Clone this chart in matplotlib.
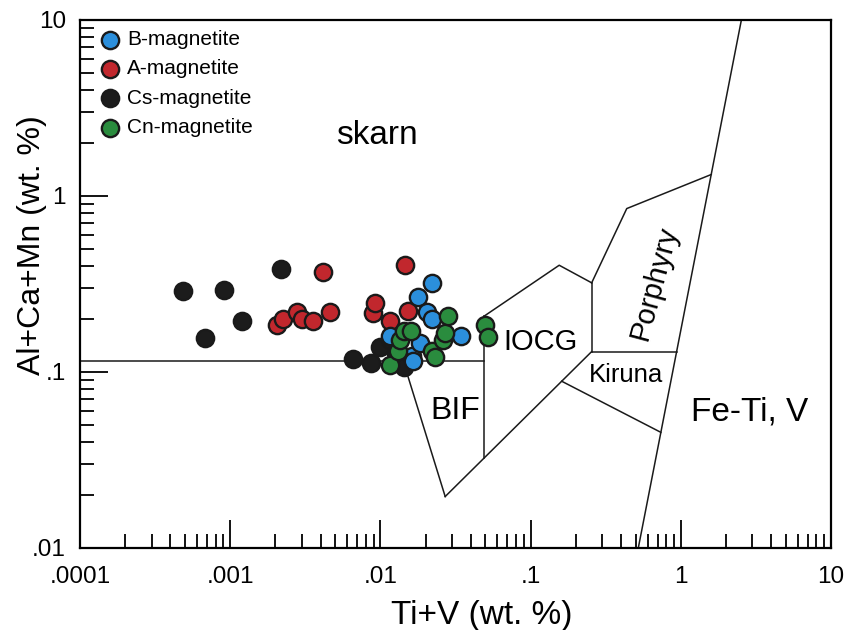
import matplotlib.pyplot as plt
from matplotlib.ticker import FixedLocator, FixedFormatter, LogLocator, NullFormatter

plt.rcParams['font.family'] = ['Liberation Sans', 'DejaVu Sans']

# Ti+V (x) and Al+Ca+Mn (y), wt. %
b_x = [0.0116, 0.0162, 0.0165, 0.0178, 0.0184, 0.0204, 0.0221, 0.0221, 0.0344]
b_y = [0.161, 0.124, 0.116, 0.265, 0.147, 0.218, 0.319, 0.201, 0.161]

a_x = [0.00205, 0.00225, 0.00278, 0.00301, 0.00356, 0.00415, 0.00462,
       0.00893, 0.00920, 0.0116, 0.0146, 0.0153]
a_y = [0.186, 0.201, 0.218, 0.201, 0.196, 0.368, 0.218,
       0.215, 0.245, 0.196, 0.403, 0.221]

cs_x = [0.000485, 0.000679, 0.000909, 0.00120, 0.00218, 0.00657, 0.00866,
        0.00994, 0.0116, 0.0127, 0.0144]
cs_y = [0.287, 0.155, 0.294, 0.196, 0.383, 0.119, 0.112,
        0.138, 0.151, 0.129, 0.107]

cn_x = [0.0116, 0.0131, 0.0135, 0.0144, 0.0160, 0.0221, 0.0231, 0.0261,
        0.0269, 0.0282, 0.0497, 0.0520]
cn_y = [0.109, 0.132, 0.151, 0.172, 0.172, 0.132, 0.121, 0.151,
        0.166, 0.207, 0.186, 0.159]

# field boundaries of the discrimination diagram
boundaries = [
    ([0.0001, 0.049], [0.115, 0.115]),
    ([0.0142, 0.027], [0.115, 0.0196]),
    ([0.027, 0.255], [0.0196, 0.1306]),
    ([0.049, 0.049], [0.0324, 0.2075]),
    ([0.049, 0.155, 0.255], [0.2075, 0.404, 0.321]),
    ([0.255, 0.255], [0.321, 0.1306]),
    ([0.255, 0.4365, 1.593], [0.321, 0.848, 1.324]),
    ([0.255, 0.938], [0.1306, 0.1306]),
    ([0.161, 0.736], [0.0886, 0.0454]),
    ([0.521, 2.53], [0.01, 10]),
]

x_ticks = [0.0001, 0.001, 0.01, 0.1, 1, 10]
x_ticklabels = ['.0001', '.001', '.01', '.1', '1', '10']
y_ticks = [0.01, 0.1, 1, 10]
y_ticklabels = ['.01', '.1', '1', '10']

fig = plt.figure(figsize=(8.48, 6.3), dpi=100)
ax = fig.add_axes([0.0943, 0.1302, 0.8857, 0.8381])
ax.set_xscale('log')
ax.set_yscale('log')
ax.set_xlim(0.0001, 10)
ax.set_ylim(0.01, 10)

for xs, ys in boundaries:
    ax.plot(xs, ys, color='#1a1a1a', lw=1.1, zorder=1)

mk = dict(s=155, edgecolors='#1a1a1a', linewidths=1.7, zorder=3)
ax.scatter(cs_x, cs_y, c='#1c1c1c', label='Cs-magnetite', **mk)
ax.scatter(a_x, a_y, c='#c1272d', label='A-magnetite', **mk)
ax.scatter(b_x, b_y, c='#2b8fdc', label='B-magnetite', **mk)
ax.scatter(cn_x, cn_y, c='#2a8c3e', label='Cn-magnetite', **mk)

# field names
ax.text(0.0095, 2.22, 'skarn', fontsize=24, ha='center', va='center')
ax.text(0.0314, 0.060, 'BIF', fontsize=23, ha='center', va='center')
ax.text(0.1155, 0.148, 'IOCG', fontsize=21, ha='center', va='center')
ax.text(0.4316, 0.0962, 'Kiruna', fontsize=18.5, ha='center', va='center')
ax.text(0.665, 0.3206, 'Porphyry', fontsize=21, ha='center', va='center', rotation=75)
ax.text(2.89, 0.0593, 'Fe-Ti, V', fontsize=24, ha='center', va='center')

# axes styling
for side in ['left', 'bottom', 'top', 'right']:
    ax.spines[side].set_linewidth(1.6)
ax.xaxis.set_major_locator(FixedLocator(x_ticks))
ax.xaxis.set_major_formatter(FixedFormatter(x_ticklabels))
ax.yaxis.set_major_locator(FixedLocator(y_ticks))
ax.yaxis.set_major_formatter(FixedFormatter(y_ticklabels))
ax.xaxis.set_minor_locator(LogLocator(base=10, subs=range(2, 10), numticks=20))
ax.yaxis.set_minor_locator(LogLocator(base=10, subs=range(2, 10), numticks=20))
ax.xaxis.set_minor_formatter(NullFormatter())
ax.yaxis.set_minor_formatter(NullFormatter())
ax.tick_params(which='both', direction='in', top=False, right=False, width=1.3, labelsize=17.5)
ax.tick_params(which='major', length=20)
ax.tick_params(which='minor', length=10)
ax.tick_params(axis='x', pad=13)
ax.tick_params(axis='y', pad=10)

ax.set_xlabel('Ti+V (wt. %)', fontsize=24)
ax.set_ylabel('Al+Ca+Mn (wt. %)', fontsize=23)
ax.xaxis.set_label_coords(0.535, -0.098)
ax.yaxis.set_label_coords(-0.044, 0.574)

handles, labels = ax.get_legend_handles_labels()
order = [2, 1, 0, 3]
ax.legend([handles[i] for i in order], [labels[i] for i in order],
          loc='upper left', bbox_to_anchor=(0.0266, 0.981), frameon=False,
          fontsize=15, scatterpoints=1, handlelength=1.0, handletextpad=0.3,
          labelspacing=0.5, borderpad=0, borderaxespad=0)

fig.savefig('out.png', dpi=100, facecolor='white')
